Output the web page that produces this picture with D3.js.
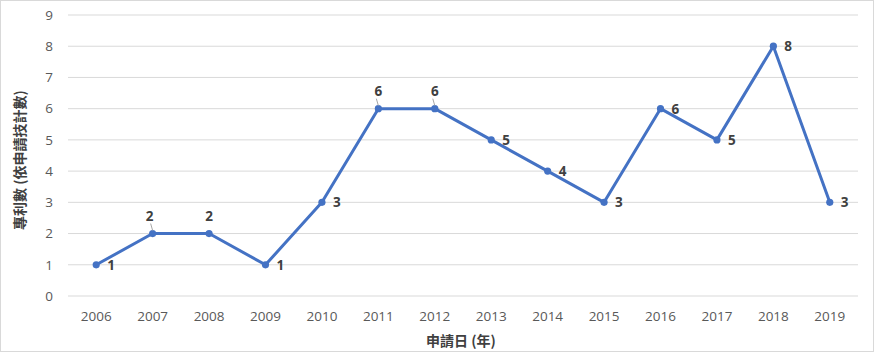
<!DOCTYPE html>
<html>
<head>
<meta charset="utf-8">
<script src="https://cdn.jsdelivr.net/npm/d3@7"></script>
<style>
  body { margin: 0; background: #fff; }
  text { font-family: "Open Sans", "Noto Sans CJK TC", sans-serif; }
</style>
</head>
<body>
<div id="chart"></div>
<script>
// données
const annees = ['2006','2007','2008','2009','2010','2011','2012','2013','2014','2015','2016','2017','2018','2019']
const brevets = [1, 2, 2, 1, 3, 6, 6, 5, 4, 3, 6, 5, 8, 3]
const yTicks = [0, 1, 2, 3, 4, 5, 6, 7, 8, 9]
// étiquettes posées au-dessus du point (sinon à droite)
const labelAbove = ['2007', '2008', '2011', '2012']

const W = 874, H = 352
const margin = {top: 15, right: 16, bottom: 56, left: 68}
const width = W - margin.left - margin.right,
    height = H - margin.top - margin.bottom

const svg = d3.select('#chart').append('svg')
    .attr('width', W).attr('height', H)

svg.append('rect')
    .attr('x', 0.5).attr('y', 0.5)
    .attr('width', W - 1).attr('height', H - 1)
    .attr('fill', '#fff').attr('stroke', '#d9d9d9')

const g = svg.append('g')
    .attr('transform', `translate(${margin.left},${margin.top})`)

const x = d3.scaleBand().domain(annees).range([0, width])
const y = d3.scaleLinear().domain([0, 9]).range([height, 0])

// grille
g.append('g').selectAll('line')
    .data(yTicks)
    .join('line')
    .attr('x1', 0).attr('x2', width)
    .attr('y1', d => y(d)).attr('y2', d => y(d))
    .attr('stroke', '#d9d9d9').attr('stroke-width', 1)

// axe y
const yAxis = g.append('g')
    .call(d3.axisLeft(y).tickValues(yTicks).tickSize(0).tickPadding(15))
yAxis.select('.domain').remove()
yAxis.selectAll('text')
    .attr('fill', '#595959').attr('font-size', 13.5)

// axe x
const xAxis = g.append('g')
    .attr('transform', `translate(0,${height})`)
    .call(d3.axisBottom(x).tickSize(0).tickPadding(15))
xAxis.select('.domain').remove()
xAxis.selectAll('text')
    .attr('fill', '#595959').attr('font-size', 13.5)

// ligne
const cx = d => x(d) + x.bandwidth() / 2
const points = annees.map((a, i) => ({annee: a, val: brevets[i]}))

g.append('path')
    .datum(points)
    .attr('fill', 'none')
    .attr('stroke', '#4472c4')
    .attr('stroke-width', 3)
    .attr('stroke-linejoin', 'round')
    .attr('d', d3.line().x(d => cx(d.annee)).y(d => y(d.val)))

g.append('g').selectAll('circle')
    .data(points)
    .join('circle')
    .attr('cx', d => cx(d.annee))
    .attr('cy', d => y(d.val))
    .attr('r', 3.6)
    .attr('fill', '#4472c4')

// petits traits de rappel (2007, 2011, 2012)
g.append('g').selectAll('line')
    .data(points.filter(d => ['2007', '2011', '2012'].includes(d.annee)))
    .join('line')
    .attr('x1', d => cx(d.annee) - 2).attr('y1', d => y(d.val) - 10)
    .attr('x2', d => cx(d.annee)).attr('y2', d => y(d.val) - 3)
    .attr('stroke', '#a6a6a6').attr('stroke-width', 1)

// étiquettes
g.append('g').selectAll('text')
    .data(points)
    .join('text')
    .attr('x', d => labelAbove.includes(d.annee) ? cx(d.annee) - (d.annee == '2007' ? 3 : 0) : cx(d.annee) + 11)
    .attr('y', d => labelAbove.includes(d.annee) ? y(d.val) - 13 : y(d.val) + 5)
    .attr('text-anchor', d => labelAbove.includes(d.annee) ? 'middle' : 'start')
    .attr('font-size', 13.5)
    .attr('font-weight', 'bold')
    .attr('fill', '#404040')
    .text(d => d.val)

// titres des axes
svg.append('text')
    .attr('x', 461).attr('y', 346)
    .attr('text-anchor', 'middle')
    .attr('font-size', 14)
    .attr('font-weight', 'bold')
    .attr('fill', '#404040')
    .style('font-family', '"Noto Sans CJK TC", sans-serif')
    .text('申請日 (年)')

svg.append('text')
    .attr('transform', 'translate(25,160) rotate(-90)')
    .attr('text-anchor', 'middle')
    .attr('font-size', 14)
    .attr('font-weight', 'bold')
    .attr('fill', '#404040')
    .style('font-family', '"Noto Sans CJK TC", sans-serif')
    .text('專利數 (依申請技計數)')
</script>
</body>
</html>
